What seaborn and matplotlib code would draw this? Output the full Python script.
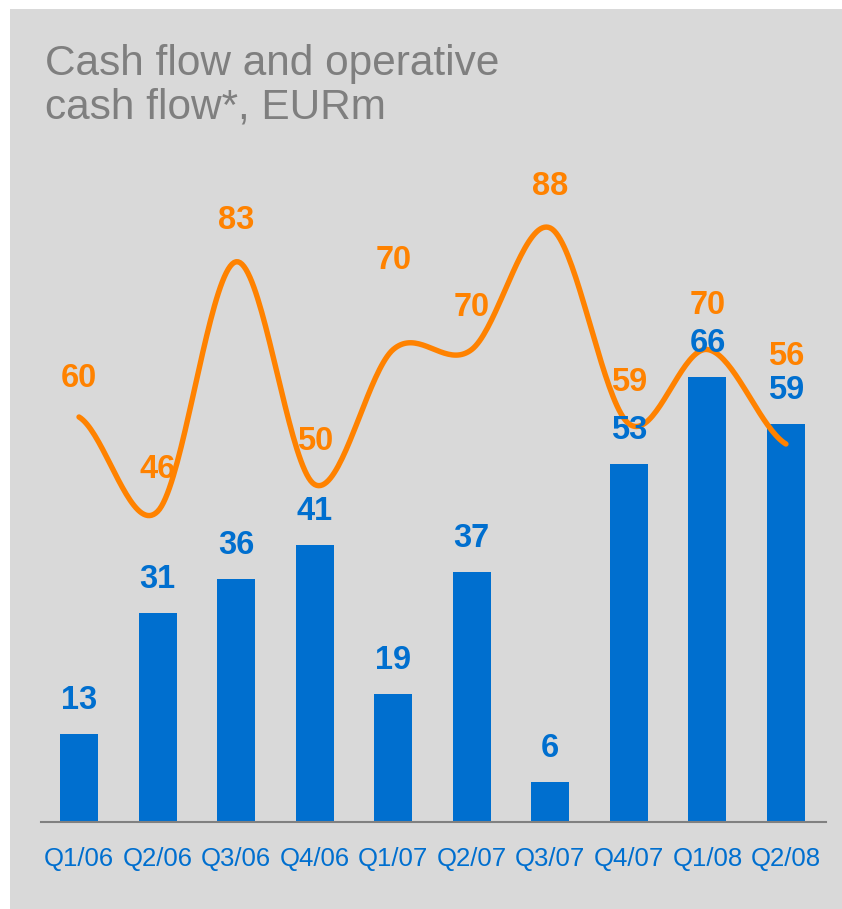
import numpy as np
import pandas as pd
import matplotlib
matplotlib.use("Agg")
import matplotlib.pyplot as plt
from matplotlib.patches import Rectangle
import seaborn as sns

# Quarterly figures, EUR million
quarters = ["Q1/06", "Q2/06", "Q3/06", "Q4/06", "Q1/07",
            "Q2/07", "Q3/07", "Q4/07", "Q1/08", "Q2/08"]
cash_flow = [13, 31, 36, 41, 19, 37, 6, 53, 66, 59]
operative_cash_flow = [60, 46, 83, 50, 70, 70, 88, 59, 70, 56]

# extra lift (points) for orange labels that would collide with other text
orange_label_lift = [28, 30, 30, 31, 64, 30, 30, 30, 32, 63]

BLUE = "#006FCF"
ORANGE = "#FF8200"
GREY_BG = "#D9D9D9"
TITLE_GREY = "#7F7F7F"

sns.set_theme(style="white")
plt.rcParams["font.family"] = ["Liberation Sans", "DejaVu Sans"]

fig = plt.figure(figsize=(8.42, 9.09), dpi=100, facecolor="white")
fig.patches.append(Rectangle((10 / 842, 0), 1, 1 - 9 / 909,
                             transform=fig.transFigure, facecolor=GREY_BG,
                             edgecolor="none", zorder=-10))

ax = fig.add_axes([41 / 842, (909 - 822) / 909, (826 - 41) / 842, 675 / 909])
ax.set_facecolor("none")

df = pd.DataFrame({"quarter": quarters, "cash": cash_flow})
sns.barplot(data=df, x="quarter", y="cash", color=BLUE, width=0.484,
            saturation=1, linewidth=0, edgecolor="none", ax=ax, zorder=2)


def catmull_rom(y, samples=40):
    """Smooth curve through every point (uniform Catmull-Rom)."""
    y = np.asarray(y, dtype=float)
    p = np.concatenate([[y[0]], y, [y[-1]]])
    xs, ys = [], []
    for i in range(len(y) - 1):
        p0, p1, p2, p3 = p[i], p[i + 1], p[i + 2], p[i + 3]
        t = np.linspace(0, 1, samples, endpoint=(i == len(y) - 2))
        m1 = (p2 - p0) / 2
        m2 = (p3 - p1) / 2
        h00 = 2 * t**3 - 3 * t**2 + 1
        h10 = t**3 - 2 * t**2 + t
        h01 = -2 * t**3 + 3 * t**2
        h11 = t**3 - t**2
        xs.append(i + t)
        ys.append(h00 * p1 + h10 * m1 + h01 * p2 + h11 * m2)
    return np.concatenate(xs), np.concatenate(ys)


sx, sy = catmull_rom(operative_cash_flow)
sns.lineplot(x=sx, y=sy, color=ORANGE, linewidth=3.9, ax=ax, zorder=3,
             sort=False, solid_capstyle="round", solid_joinstyle="round")

for i, v in enumerate(cash_flow):
    ax.annotate(str(v), (i, v), xytext=(0, 24), textcoords="offset points",
                ha="center", va="center", fontsize=23.5, fontweight="bold",
                color=BLUE, zorder=4)

for i, v in enumerate(operative_cash_flow):
    ax.annotate(str(v), (i, v), xytext=(0, orange_label_lift[i]),
                textcoords="offset points", ha="center", va="center",
                fontsize=23.5, fontweight="bold", color=ORANGE, zorder=4)

ax.set_xlim(-0.484, 9.51)
ax.set_ylim(0, 100)
ax.set_xlabel("")
ax.set_ylabel("")
ax.set_yticks([])
ax.tick_params(axis="x", length=0, pad=18, labelsize=18.5, labelcolor=BLUE)
for side in ["top", "left", "right"]:
    ax.spines[side].set_visible(False)
ax.spines["bottom"].set_color("#808080")
ax.spines["bottom"].set_linewidth(1.5)
ax.spines["bottom"].set_zorder(5)

title_lines = ["Cash flow and operative", "cash flow*, EURm"]
for line, base_px in zip(title_lines, [75, 118]):
    fig.text(45 / 842, 1 - base_px / 909, line, ha="left", va="baseline",
             fontsize=30.5, color=TITLE_GREY)

fig.savefig("out.png", dpi=100, facecolor="white")
